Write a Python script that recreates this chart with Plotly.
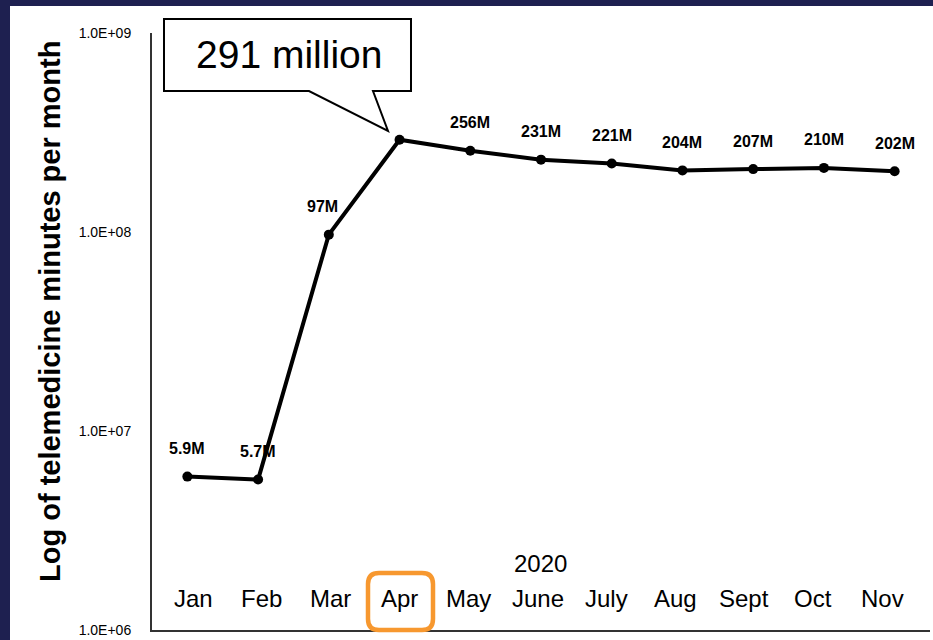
import math
import plotly.graph_objects as go

# ---- data ----
months = ["Jan", "Feb", "Mar", "Apr", "May", "June", "July", "Aug", "Sept", "Oct", "Nov"]
minutes = [5.9e6, 5.7e6, 97e6, 291e6, 256e6, 231e6, 221e6, 204e6, 207e6, 210e6, 202e6]
point_labels = ["5.9M", "5.7M", "97M", "", "256M", "231M", "221M", "204M", "207M", "210M", "202M"]
ytick_vals = [1e6, 1e7, 1e8, 1e9]
ytick_text = ["1.0E+06", "1.0E+07", "1.0E+08", "1.0E+09"]
year_label = "2020"
callout_text = "291 million"
y_title = "Log of telemedicine minutes per month"

# ---- geometry helpers (pixel -> paper) ----
W, H = 933, 640
L, R, T, B = 152, 3, 33, 10
PW, PH = W - L - R, H - T - B


def px(x):
    return (x - L) / PW


def py(y):
    return (H - B - y) / PH


NAVY = "#1e2050"
ORANGE = "#F7982F"
arial = "Liberation Sans, Arial, sans-serif"

fig = go.Figure()
fig.add_trace(go.Scatter(
    x=months, y=minutes, mode="lines+markers",
    line=dict(color="black", width=4),
    marker=dict(color="black", size=10),
    hoverinfo="skip", showlegend=False,
))

annotations = []
for m, v, t in zip(months, minutes, point_labels):
    if not t:
        continue
    annotations.append(dict(
        x=m, y=math.log10(v), xref="x", yref="y", text=t, showarrow=False,
        xanchor="center", yanchor="middle",
        xshift=-6 if m == "Mar" else 0, yshift=28,
        font=dict(family=arial, size=16, color="black", weight="bold"),
    ))

# month labels sit inside the plot, slightly tighter spaced than the points
first_px, step_px = 193, 68.9
for i, m in enumerate(months):
    annotations.append(dict(
        x=px(first_px + i * step_px), y=py(598), xref="paper", yref="paper", text=m,
        showarrow=False, xanchor="center", yanchor="middle",
        font=dict(family=arial, size=24, color="black"),
    ))

annotations.append(dict(
    x=px(540), y=py(563), xref="paper", yref="paper", text=year_label, showarrow=False,
    xanchor="center", yanchor="middle",
    font=dict(family=arial, size=24, color="black"),
))
annotations.append(dict(
    x=px(289), y=py(54), xref="paper", yref="paper", text=callout_text, showarrow=False,
    xanchor="center", yanchor="middle",
    font=dict(family=arial, size=39, color="black"),
))
annotations.append(dict(
    x=px(50), y=py(312), xref="paper", yref="paper", text=y_title, showarrow=False,
    xanchor="center", yanchor="middle", textangle=-90,
    font=dict(family=arial, size=29, color="black", weight="bold"),
))


def pt(x, y):
    return f"{px(x):.5f},{py(y):.5f}"


callout_path = ("M " + pt(164, 19) + " L " + pt(411, 19) + " L " + pt(411, 91) +
                " L " + pt(373, 91) + " L " + pt(388, 131) + " L " + pt(309, 91) +
                " L " + pt(164, 91) + " Z")

x0, x1, y0, y1, r = 368, 433, 573, 630, 11
box_path = ("M " + pt(x0 + r, y0) + " L " + pt(x1 - r, y0) + " Q " + pt(x1, y0) + " " + pt(x1, y0 + r) +
            " L " + pt(x1, y1 - r) + " Q " + pt(x1, y1) + " " + pt(x1 - r, y1) +
            " L " + pt(x0 + r, y1) + " Q " + pt(x0, y1) + " " + pt(x0, y1 - r) +
            " L " + pt(x0, y0 + r) + " Q " + pt(x0, y0) + " " + pt(x0 + r, y0) + " Z")

shapes = [
    dict(type="rect", xref="paper", yref="paper", x0=px(0), x1=px(W), y0=py(0), y1=py(6),
         fillcolor=NAVY, line=dict(width=0), layer="above"),
    dict(type="rect", xref="paper", yref="paper", x0=px(0), x1=px(10), y0=py(0), y1=py(H),
         fillcolor=NAVY, line=dict(width=0), layer="above"),
    dict(type="path", xref="paper", yref="paper", path=callout_path,
         fillcolor="white", line=dict(color="black", width=2), layer="above"),
    dict(type="path", xref="paper", yref="paper", path=box_path,
         fillcolor="rgba(0,0,0,0)", line=dict(color=ORANGE, width=4.5), layer="above"),
]

fig.update_layout(
    width=W, height=H,
    margin=dict(l=L, r=R, t=T, b=B, pad=0),
    paper_bgcolor="white", plot_bgcolor="white",
    showlegend=False,
    xaxis=dict(
        type="category", range=[-0.5, len(months) - 0.5],
        showticklabels=False, ticks="", showgrid=False, zeroline=False,
        showline=True, linecolor="#333333", linewidth=2,
    ),
    yaxis=dict(
        type="log", range=[6, 9],
        tickvals=ytick_vals, ticktext=ytick_text, ticks="",
        ticklabelstandoff=16,
        tickfont=dict(family=arial, size=14, color="black"),
        showgrid=False, zeroline=False,
        showline=True, linecolor="#333333", linewidth=2,
    ),
    annotations=annotations,
    shapes=shapes,
)

fig.write_html(
    "out.html",
    config={"displayModeBar": False},
    post_script="document.body.style.margin='0';document.body.style.overflow='hidden';",
)
